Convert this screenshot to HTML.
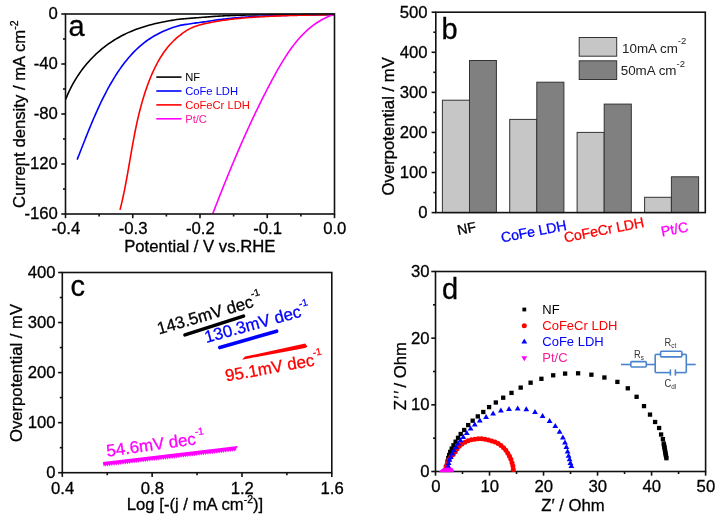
<!DOCTYPE html>
<html><head><meta charset="utf-8"><style>
html,body{margin:0;padding:0;background:#fff;width:723px;height:525px;overflow:hidden;font-family:"Liberation Sans", sans-serif;}
svg text{font-family:"Liberation Sans", sans-serif;stroke-width:0.3px;}
</style></head><body>
<svg width="723" height="525" viewBox="0 0 723 525" style="position:absolute;left:0;top:0;will-change:transform" font-family='"Liberation Sans", sans-serif'>
<rect width="723" height="525" fill="#fff"/>
<g clip-path="url(#clipa)">
<path d="M65.61,99.41 L66.64,96.87 L67.71,94.36 L68.84,91.90 L70.00,89.47 L71.21,87.07 L72.47,84.72 L73.76,82.40 L75.10,80.13 L76.48,77.89 L77.89,75.69 L79.35,73.53 L80.85,71.41 L82.38,69.34 L83.95,67.30 L85.56,65.30 L87.20,63.35 L88.88,61.43 L90.59,59.56 L92.34,57.73 L94.12,55.95 L95.93,54.20 L97.78,52.50 L99.65,50.85 L101.56,49.23 L103.49,47.66 L105.45,46.14 L107.44,44.66 L109.46,43.22 L111.51,41.83 L113.58,40.49 L115.68,39.19 L117.80,37.94 L119.94,36.73 L122.11,35.58 L124.30,34.46 L126.51,33.40 L128.74,32.38 L131.00,31.41 L133.27,30.48 L135.56,29.60 L137.87,28.75 L140.20,27.94 L142.54,27.17 L144.91,26.44 L147.28,25.74 L149.67,25.07 L152.08,24.44 L154.49,23.83 L156.92,23.26 L159.37,22.71 L161.82,22.19 L164.28,21.69 L166.76,21.22 L169.24,20.78 L171.74,20.35 L174.24,19.95 L176.75,19.58 L179.27,19.22 L180.00,19.12 L181.50,19.01 L183.00,18.90 L184.50,18.78 L186.00,18.66 L187.50,18.53 L189.00,18.41 L190.50,18.29 L192.00,18.16 L193.50,18.04 L195.00,17.92 L196.50,17.80 L198.00,17.68 L199.50,17.56 L201.00,17.44 L202.50,17.32 L204.00,17.21 L205.50,17.09 L207.00,16.96 L208.50,16.83 L210.00,16.71 L211.50,16.60 L213.00,16.49 L214.50,16.39 L216.00,16.29 L217.50,16.19 L219.00,16.10 L220.50,16.02 L222.00,15.94 L223.50,15.86 L225.00,15.79 L226.50,15.72 L228.00,15.65 L229.50,15.59 L231.00,15.53 L232.50,15.47 L234.00,15.41 L235.50,15.36 L237.00,15.31 L238.50,15.26 L240.00,15.22 L241.50,15.17 L243.00,15.13 L244.50,15.09 L246.00,15.06 L247.50,15.02 L249.00,14.99 L250.50,14.95 L252.00,14.92 L253.50,14.89 L255.00,14.86 L256.50,14.84 L258.00,14.81 L259.50,14.79 L261.00,14.77 L262.50,14.74 L264.00,14.72 L265.50,14.70 L267.00,14.68 L268.50,14.67 L270.00,14.65 L271.50,14.63 L273.00,14.62 L274.50,14.60 L276.00,14.59 L277.50,14.57 L279.00,14.56 L280.50,14.55 L282.00,14.54 L283.50,14.53 L285.00,14.51 L286.50,14.50 L288.00,14.49 L289.50,14.49 L291.00,14.48 L292.50,14.47 L294.00,14.46 L295.50,14.45 L297.00,14.45 L298.50,14.44 L300.00,14.43 L301.50,14.43 L303.00,14.42 L304.50,14.41 L306.00,14.41 L307.50,14.40 L309.00,14.40 L310.50,14.39 L312.00,14.39 L313.50,14.39 L315.00,14.38 L316.50,14.38 L318.00,14.37 L319.50,14.37 L321.00,14.37 L322.50,14.36 L324.00,14.36 L325.50,14.36 L327.00,14.36 L328.50,14.35 L330.00,14.35 L331.50,14.35 L333.00,14.35 L334.50,14.34" fill="none" stroke="#000" stroke-width="1.6" stroke-linejoin="round"/>
<path d="M77.14,159.59 L78.10,157.16 L79.07,154.71 L80.04,152.25 L81.01,149.76 L81.99,147.26 L82.98,144.74 L83.98,142.21 L84.98,139.67 L85.99,137.12 L87.02,134.56 L88.05,131.99 L89.10,129.41 L90.16,126.82 L91.23,124.24 L92.31,121.64 L93.42,119.05 L94.54,116.46 L95.67,113.86 L96.83,111.27 L98.00,108.68 L99.19,106.10 L100.41,103.52 L101.64,100.95 L102.90,98.38 L104.18,95.83 L105.49,93.28 L106.82,90.75 L108.18,88.23 L109.56,85.73 L110.97,83.25 L112.41,80.78 L113.88,78.34 L115.39,75.92 L116.92,73.53 L118.48,71.16 L120.08,68.84 L121.71,66.54 L123.38,64.28 L125.08,62.07 L126.82,59.89 L128.60,57.76 L130.42,55.68 L132.27,53.64 L134.17,51.66 L136.10,49.73 L138.08,47.86 L140.11,46.05 L142.17,44.30 L144.28,42.62 L146.44,41.00 L148.64,39.46 L150.89,37.97 L153.17,36.56 L155.50,35.21 L157.87,33.93 L160.27,32.71 L162.71,31.56 L165.19,30.47 L167.69,29.44 L170.23,28.48 L172.80,27.58 L175.39,26.73 L178.02,25.94 L180.00,25.38 L181.50,25.13 L183.00,24.88 L184.50,24.64 L186.00,24.40 L187.50,24.18 L189.00,23.95 L190.50,23.73 L192.00,23.52 L193.50,23.30 L195.00,23.10 L196.50,22.89 L198.00,22.69 L199.50,22.49 L201.00,22.29 L202.50,22.10 L204.00,21.90 L205.50,21.69 L207.00,21.43 L208.50,21.18 L210.00,20.93 L211.50,20.70 L213.00,20.47 L214.50,20.25 L216.00,20.04 L217.50,19.84 L219.00,19.64 L220.50,19.46 L222.00,19.27 L223.50,19.10 L225.00,18.93 L226.50,18.77 L228.00,18.61 L229.50,18.46 L231.00,18.31 L232.50,18.17 L234.00,18.03 L235.50,17.90 L237.00,17.77 L238.50,17.65 L240.00,17.53 L241.50,17.42 L243.00,17.31 L244.50,17.20 L246.00,17.10 L247.50,17.00 L249.00,16.90 L250.50,16.81 L252.00,16.72 L253.50,16.64 L255.00,16.55 L256.50,16.47 L258.00,16.40 L259.50,16.32 L261.00,16.25 L262.50,16.18 L264.00,16.12 L265.50,16.05 L267.00,15.99 L268.50,15.93 L270.00,15.87 L271.50,15.82 L273.00,15.76 L274.50,15.71 L276.00,15.66 L277.50,15.61 L279.00,15.57 L280.50,15.52 L282.00,15.48 L283.50,15.44 L285.00,15.40 L286.50,15.36 L288.00,15.32 L289.50,15.29 L291.00,15.25 L292.50,15.22 L294.00,15.18 L295.50,15.15 L297.00,15.12 L298.50,15.09 L300.00,15.07 L301.50,15.04 L303.00,15.01 L304.50,14.99 L306.00,14.96 L307.50,14.94 L309.00,14.92 L310.50,14.90 L312.00,14.87 L313.50,14.85 L315.00,14.83 L316.50,14.82 L318.00,14.80 L319.50,14.78 L321.00,14.76 L322.50,14.75 L324.00,14.73 L325.50,14.72 L327.00,14.70 L328.50,14.69 L330.00,14.67 L331.50,14.66 L333.00,14.65 L334.50,14.64" fill="none" stroke="#0000ff" stroke-width="1.6" stroke-linejoin="round"/>
<path d="M119.99,209.91 L120.69,207.14 L121.37,204.35 L122.02,201.56 L122.65,198.77 L123.27,195.96 L123.86,193.15 L124.44,190.33 L125.00,187.51 L125.55,184.68 L126.09,181.84 L126.61,179.00 L127.13,176.16 L127.64,173.31 L128.14,170.46 L128.64,167.60 L129.13,164.74 L129.62,161.88 L130.11,159.01 L130.61,156.15 L131.10,153.28 L131.60,150.40 L132.11,147.53 L132.62,144.66 L133.15,141.78 L133.68,138.90 L134.22,136.03 L134.78,133.15 L135.35,130.28 L135.94,127.40 L136.55,124.53 L137.17,121.66 L137.82,118.79 L138.49,115.92 L139.18,113.05 L139.90,110.19 L140.65,107.33 L141.42,104.47 L142.22,101.62 L143.06,98.77 L143.93,95.92 L144.83,93.08 L145.77,90.25 L146.74,87.41 L147.76,84.59 L148.81,81.77 L149.91,78.97 L151.05,76.19 L152.23,73.44 L153.47,70.71 L154.75,68.01 L156.08,65.36 L157.46,62.75 L158.89,60.18 L160.38,57.67 L161.92,55.21 L163.52,52.82 L165.18,50.49 L166.89,48.24 L168.67,46.06 L170.52,43.97 L172.42,41.96 L174.40,40.04 L176.44,38.21 L178.54,36.48 L180.00,35.39 L181.50,34.09 L183.00,32.90 L184.50,31.83 L186.00,30.85 L187.50,29.94 L189.00,29.12 L190.50,28.37 L192.00,27.68 L193.50,27.05 L195.00,26.47 L196.50,25.94 L198.00,25.45 L199.50,25.01 L201.00,24.60 L202.50,24.23 L204.00,23.88 L205.50,23.56 L207.00,23.23 L208.50,22.92 L210.00,22.61 L211.50,22.32 L213.00,22.04 L214.50,21.76 L216.00,21.50 L217.50,21.25 L219.00,21.00 L220.50,20.77 L222.00,20.54 L223.50,20.32 L225.00,20.11 L226.50,19.90 L228.00,19.70 L229.50,19.51 L231.00,19.33 L232.50,19.15 L234.00,18.98 L235.50,18.82 L237.00,18.66 L238.50,18.50 L240.00,18.36 L241.50,18.21 L243.00,18.07 L244.50,17.94 L246.00,17.81 L247.50,17.69 L249.00,17.57 L250.50,17.45 L252.00,17.34 L253.50,17.24 L255.00,17.13 L256.50,17.03 L258.00,16.94 L259.50,16.84 L261.00,16.75 L262.50,16.67 L264.00,16.58 L265.50,16.50 L267.00,16.43 L268.50,16.35 L270.00,16.28 L271.50,16.21 L273.00,16.14 L274.50,16.08 L276.00,16.01 L277.50,15.95 L279.00,15.90 L280.50,15.84 L282.00,15.78 L283.50,15.73 L285.00,15.68 L286.50,15.63 L288.00,15.59 L289.50,15.54 L291.00,15.50 L292.50,15.46 L294.00,15.41 L295.50,15.38 L297.00,15.34 L298.50,15.30 L300.00,15.27 L301.50,15.23 L303.00,15.20 L304.50,15.17 L306.00,15.14 L307.50,15.11 L309.00,15.08 L310.50,15.05 L312.00,15.02 L313.50,15.00 L315.00,14.97 L316.50,14.95 L318.00,14.93 L319.50,14.91 L321.00,14.88 L322.50,14.86 L324.00,14.84 L325.50,14.82 L327.00,14.81 L328.50,14.79 L330.00,14.77 L331.50,14.75 L333.00,14.74 L334.50,14.72" fill="none" stroke="#ff0000" stroke-width="1.6" stroke-linejoin="round"/>
<path d="M212.82,213.54 L213.55,211.64 L214.29,209.74 L215.02,207.85 L215.76,205.95 L216.50,204.06 L217.23,202.17 L217.97,200.29 L218.71,198.41 L219.45,196.53 L220.19,194.65 L220.93,192.77 L221.67,190.90 L222.42,189.03 L223.16,187.16 L223.91,185.29 L224.66,183.43 L225.41,181.56 L226.16,179.70 L226.92,177.84 L227.67,175.99 L228.43,174.13 L229.19,172.28 L229.95,170.43 L230.71,168.58 L231.48,166.73 L232.25,164.89 L233.02,163.04 L233.79,161.20 L234.57,159.36 L235.34,157.52 L236.12,155.69 L236.91,153.85 L237.69,152.02 L238.48,150.18 L239.28,148.35 L240.07,146.52 L240.87,144.69 L241.67,142.86 L242.48,141.04 L243.29,139.21 L244.10,137.39 L244.91,135.57 L245.73,133.75 L246.55,131.92 L247.38,130.11 L248.21,128.29 L249.05,126.47 L249.88,124.65 L250.73,122.84 L251.57,121.02 L252.42,119.21 L253.28,117.39 L254.14,115.58 L255.00,113.77 L255.87,111.96 L256.75,110.15 L257.62,108.34 L258.51,106.53 L259.40,104.72 L260.29,102.91 L261.19,101.10 L262.09,99.29 L263.00,97.48 L263.91,95.68 L264.83,93.87 L265.75,92.06 L266.68,90.25 L267.62,88.45 L268.56,86.64 L269.51,84.83 L270.46,83.03 L271.42,81.22 L272.38,79.41 L273.35,77.61 L274.33,75.80 L275.32,74.00 L276.31,72.20 L277.31,70.41 L278.32,68.63 L279.35,66.85 L280.38,65.08 L281.42,63.31 L282.48,61.56 L283.55,59.82 L284.63,58.10 L285.72,56.38 L286.83,54.69 L287.96,53.00 L289.10,51.34 L290.25,49.69 L291.43,48.06 L292.62,46.46 L293.82,44.87 L295.05,43.31 L296.30,41.77 L297.56,40.25 L298.85,38.76 L300.15,37.30 L301.48,35.86 L302.83,34.45 L304.20,33.08 L305.60,31.73 L307.02,30.42 L308.46,29.14 L309.93,27.89 L311.43,26.68 L312.95,25.51 L314.50,24.38 L316.07,23.28 L317.68,22.22 L319.31,21.21 L320.97,20.23 L322.66,19.30 L324.39,18.41 L326.14,17.57 L327.93,16.78 L329.74,16.03 L331.60,15.33 L333.48,14.68" fill="none" stroke="#ff00ff" stroke-width="1.6" stroke-linejoin="round"/>
</g>
<clipPath id="clipa"><rect x="65.5" y="12.0" width="269.0" height="202.0"/></clipPath>
<rect x="65.5" y="14.0" width="269.0" height="200.0" fill="none" stroke="#111" stroke-width="1.6"/>
<line x1="61.30" y1="14.00" x2="65.50" y2="14.00" stroke="#111" stroke-width="1.6" />
<line x1="61.30" y1="64.00" x2="65.50" y2="64.00" stroke="#111" stroke-width="1.6" />
<line x1="61.30" y1="114.00" x2="65.50" y2="114.00" stroke="#111" stroke-width="1.6" />
<line x1="61.30" y1="164.00" x2="65.50" y2="164.00" stroke="#111" stroke-width="1.6" />
<line x1="61.30" y1="214.00" x2="65.50" y2="214.00" stroke="#111" stroke-width="1.6" />
<line x1="63.00" y1="39.00" x2="65.50" y2="39.00" stroke="#111" stroke-width="1.6" />
<line x1="63.00" y1="89.00" x2="65.50" y2="89.00" stroke="#111" stroke-width="1.6" />
<line x1="63.00" y1="139.00" x2="65.50" y2="139.00" stroke="#111" stroke-width="1.6" />
<line x1="63.00" y1="189.00" x2="65.50" y2="189.00" stroke="#111" stroke-width="1.6" />
<line x1="65.50" y1="214.00" x2="65.50" y2="218.20" stroke="#111" stroke-width="1.6" />
<line x1="132.75" y1="214.00" x2="132.75" y2="218.20" stroke="#111" stroke-width="1.6" />
<line x1="200.00" y1="214.00" x2="200.00" y2="218.20" stroke="#111" stroke-width="1.6" />
<line x1="267.25" y1="214.00" x2="267.25" y2="218.20" stroke="#111" stroke-width="1.6" />
<line x1="334.50" y1="214.00" x2="334.50" y2="218.20" stroke="#111" stroke-width="1.6" />
<line x1="99.13" y1="214.00" x2="99.13" y2="216.50" stroke="#111" stroke-width="1.6" />
<line x1="166.38" y1="214.00" x2="166.38" y2="216.50" stroke="#111" stroke-width="1.6" />
<line x1="233.62" y1="214.00" x2="233.62" y2="216.50" stroke="#111" stroke-width="1.6" />
<line x1="300.88" y1="214.00" x2="300.88" y2="216.50" stroke="#111" stroke-width="1.6" />
<text x="57.90" y="19.40" font-size="16.7" text-anchor="end" fill="#000" stroke="#000" >0</text>
<text x="57.90" y="69.40" font-size="16.7" text-anchor="end" fill="#000" stroke="#000" >-40</text>
<text x="57.90" y="119.40" font-size="16.7" text-anchor="end" fill="#000" stroke="#000" >-80</text>
<text x="57.90" y="169.40" font-size="16.7" text-anchor="end" fill="#000" stroke="#000" >-120</text>
<text x="57.90" y="219.40" font-size="16.7" text-anchor="end" fill="#000" stroke="#000" >-160</text>
<text x="65.80" y="234.40" font-size="16.7" text-anchor="middle" fill="#000" stroke="#000" >-0.4</text>
<text x="133.05" y="234.40" font-size="16.7" text-anchor="middle" fill="#000" stroke="#000" >-0.3</text>
<text x="200.30" y="234.40" font-size="16.7" text-anchor="middle" fill="#000" stroke="#000" >-0.2</text>
<text x="267.55" y="234.40" font-size="16.7" text-anchor="middle" fill="#000" stroke="#000" >-0.1</text>
<text x="334.80" y="234.40" font-size="16.7" text-anchor="middle" fill="#000" stroke="#000" >0.0</text>
<text x="199.80" y="252.00" font-size="16.7" text-anchor="middle" fill="#000" stroke="#000" >Potential / V vs.RHE</text>
<text transform="translate(25.2,114.2) rotate(-90)" font-size="16.7" text-anchor="middle" stroke="#000">Current density / mA cm<tspan font-size="10.5" dy="-7">-2</tspan></text>
<text x="68.60" y="36.30" font-size="29" text-anchor="start" fill="#000" stroke="#000" >a</text>
<line x1="156.30" y1="77.10" x2="181.50" y2="77.10" stroke="#000" stroke-width="1.6" />
<text x="185.20" y="81.10" font-size="11.2" text-anchor="start" fill="#000" >NF</text>
<line x1="156.30" y1="91.00" x2="181.50" y2="91.00" stroke="#0000ff" stroke-width="1.6" />
<text x="185.20" y="95.00" font-size="11.2" text-anchor="start" fill="#0000ff" >CoFe LDH</text>
<line x1="156.30" y1="104.90" x2="181.50" y2="104.90" stroke="#ff0000" stroke-width="1.6" />
<text x="185.20" y="108.90" font-size="11.2" text-anchor="start" fill="#ff0000" >CoFeCr LDH</text>
<line x1="156.30" y1="118.80" x2="181.50" y2="118.80" stroke="#ff00ff" stroke-width="1.6" />
<text x="185.20" y="122.80" font-size="11.2" text-anchor="start" fill="#ff1a9c" >Pt/C</text>
<rect x="442.4" y="100.2" width="27.100000000000023" height="112.39999999999999" fill="#c6c6c6" stroke="#333" stroke-width="1"/>
<rect x="469.5" y="60.5" width="26.899999999999977" height="152.1" fill="#808080" stroke="#333" stroke-width="1"/>
<rect x="509.7" y="119.4" width="27.099999999999966" height="93.19999999999999" fill="#c6c6c6" stroke="#333" stroke-width="1"/>
<rect x="536.8" y="82.2" width="27.100000000000023" height="130.39999999999998" fill="#808080" stroke="#333" stroke-width="1"/>
<rect x="577.1" y="132.4" width="27.100000000000023" height="80.19999999999999" fill="#c6c6c6" stroke="#333" stroke-width="1"/>
<rect x="604.2" y="104.1" width="27.09999999999991" height="108.5" fill="#808080" stroke="#333" stroke-width="1"/>
<rect x="644.6" y="197.3" width="26.799999999999955" height="15.299999999999983" fill="#c6c6c6" stroke="#333" stroke-width="1"/>
<rect x="671.4" y="176.8" width="27.200000000000045" height="35.79999999999998" fill="#808080" stroke="#333" stroke-width="1"/>
<rect x="435.8" y="12.2" width="269.49999999999994" height="200.4" fill="none" stroke="#111" stroke-width="1.6"/>
<line x1="431.60" y1="212.60" x2="435.80" y2="212.60" stroke="#111" stroke-width="1.6" />
<line x1="431.60" y1="172.52" x2="435.80" y2="172.52" stroke="#111" stroke-width="1.6" />
<line x1="431.60" y1="132.44" x2="435.80" y2="132.44" stroke="#111" stroke-width="1.6" />
<line x1="431.60" y1="92.36" x2="435.80" y2="92.36" stroke="#111" stroke-width="1.6" />
<line x1="431.60" y1="52.28" x2="435.80" y2="52.28" stroke="#111" stroke-width="1.6" />
<line x1="431.60" y1="12.20" x2="435.80" y2="12.20" stroke="#111" stroke-width="1.6" />
<line x1="433.30" y1="192.56" x2="435.80" y2="192.56" stroke="#111" stroke-width="1.6" />
<line x1="433.30" y1="152.48" x2="435.80" y2="152.48" stroke="#111" stroke-width="1.6" />
<line x1="433.30" y1="112.40" x2="435.80" y2="112.40" stroke="#111" stroke-width="1.6" />
<line x1="433.30" y1="72.32" x2="435.80" y2="72.32" stroke="#111" stroke-width="1.6" />
<line x1="433.30" y1="32.24" x2="435.80" y2="32.24" stroke="#111" stroke-width="1.6" />
<text x="427.60" y="218.20" font-size="16.7" text-anchor="end" fill="#000" stroke="#000" >0</text>
<text x="427.60" y="178.12" font-size="16.7" text-anchor="end" fill="#000" stroke="#000" >100</text>
<text x="427.60" y="138.04" font-size="16.7" text-anchor="end" fill="#000" stroke="#000" >200</text>
<text x="427.60" y="97.96" font-size="16.7" text-anchor="end" fill="#000" stroke="#000" >300</text>
<text x="427.60" y="57.88" font-size="16.7" text-anchor="end" fill="#000" stroke="#000" >400</text>
<text x="427.60" y="17.80" font-size="16.7" text-anchor="end" fill="#000" stroke="#000" >500</text>
<text transform="translate(394.3,126.3) rotate(-90)" font-size="16.7" text-anchor="middle" stroke="#000">Overpotential / mV</text>
<text x="441.50" y="38.50" font-size="29" text-anchor="start" fill="#000" stroke="#000" >b</text>
<rect x="579.2" y="37.5" width="37.5" height="18.7" fill="#c6c6c6" stroke="#333" stroke-width="1"/>
<rect x="579.2" y="60.8" width="37.5" height="18.7" fill="#808080" stroke="#333" stroke-width="1"/>
<text x="622.0" y="52.9" font-size="13.4" fill="#222">10mA cm<tspan font-size="9.5" dy="-8.5">-2</tspan></text>
<text x="620.7" y="75.1" font-size="13.4" fill="#222">50mA cm<tspan font-size="9.5" dy="-8.5">-2</tspan></text>
<text transform="translate(466.4,228.3) rotate(-11)" font-size="14.1" text-anchor="middle" fill="#000" dy="5" stroke="#000">NF</text>
<text transform="translate(533.6,231.3) rotate(-11)" font-size="14.1" text-anchor="middle" fill="#0000ff" dy="5" stroke="#0000ff">CoFe LDH</text>
<text transform="translate(603.9,229.7) rotate(-11)" font-size="14.1" text-anchor="middle" fill="#ff0000" dy="5" stroke="#ff0000">CoFeCr LDH</text>
<text transform="translate(674.5,229) rotate(-11)" font-size="14.1" text-anchor="middle" fill="#ff00ff" dy="5" stroke="#ff00ff">Pt/C</text>
<rect x="62.3" y="272.5" width="269.5" height="200.2" fill="none" stroke="#111" stroke-width="1.6"/>
<line x1="58.10" y1="472.70" x2="62.30" y2="472.70" stroke="#111" stroke-width="1.6" />
<line x1="58.10" y1="422.65" x2="62.30" y2="422.65" stroke="#111" stroke-width="1.6" />
<line x1="58.10" y1="372.60" x2="62.30" y2="372.60" stroke="#111" stroke-width="1.6" />
<line x1="58.10" y1="322.55" x2="62.30" y2="322.55" stroke="#111" stroke-width="1.6" />
<line x1="58.10" y1="272.50" x2="62.30" y2="272.50" stroke="#111" stroke-width="1.6" />
<line x1="59.80" y1="447.68" x2="62.30" y2="447.68" stroke="#111" stroke-width="1.6" />
<line x1="59.80" y1="397.62" x2="62.30" y2="397.62" stroke="#111" stroke-width="1.6" />
<line x1="59.80" y1="347.57" x2="62.30" y2="347.57" stroke="#111" stroke-width="1.6" />
<line x1="59.80" y1="297.52" x2="62.30" y2="297.52" stroke="#111" stroke-width="1.6" />
<line x1="62.30" y1="472.70" x2="62.30" y2="476.90" stroke="#111" stroke-width="1.6" />
<line x1="152.13" y1="472.70" x2="152.13" y2="476.90" stroke="#111" stroke-width="1.6" />
<line x1="241.97" y1="472.70" x2="241.97" y2="476.90" stroke="#111" stroke-width="1.6" />
<line x1="331.80" y1="472.70" x2="331.80" y2="476.90" stroke="#111" stroke-width="1.6" />
<line x1="107.22" y1="472.70" x2="107.22" y2="475.20" stroke="#111" stroke-width="1.6" />
<line x1="197.05" y1="472.70" x2="197.05" y2="475.20" stroke="#111" stroke-width="1.6" />
<line x1="286.88" y1="472.70" x2="286.88" y2="475.20" stroke="#111" stroke-width="1.6" />
<text x="55.60" y="478.30" font-size="16.7" text-anchor="end" fill="#000" stroke="#000" >0</text>
<text x="55.60" y="428.25" font-size="16.7" text-anchor="end" fill="#000" stroke="#000" >100</text>
<text x="55.60" y="378.20" font-size="16.7" text-anchor="end" fill="#000" stroke="#000" >200</text>
<text x="55.60" y="328.15" font-size="16.7" text-anchor="end" fill="#000" stroke="#000" >300</text>
<text x="55.60" y="278.10" font-size="16.7" text-anchor="end" fill="#000" stroke="#000" >400</text>
<text x="62.60" y="494.20" font-size="16.7" text-anchor="middle" fill="#000" stroke="#000" >0.4</text>
<text x="152.43" y="494.20" font-size="16.7" text-anchor="middle" fill="#000" stroke="#000" >0.8</text>
<text x="242.27" y="494.20" font-size="16.7" text-anchor="middle" fill="#000" stroke="#000" >1.2</text>
<text x="332.10" y="494.20" font-size="16.7" text-anchor="middle" fill="#000" stroke="#000" >1.6</text>
<text x="195" y="510.4" font-size="16.7" text-anchor="middle" stroke="#000">Log [-(j / mA cm<tspan font-size="10.5" dy="-7">-2</tspan><tspan dy="7">)]</tspan></text>
<text transform="translate(22.4,373) rotate(-90)" font-size="16.7" text-anchor="middle" stroke="#000">Overpotential / mV</text>
<text x="70.50" y="296.00" font-size="29" text-anchor="start" fill="#000" stroke="#000" >c</text>
<line x1="185" y1="334.9" x2="243.5" y2="316.1" stroke="#000" stroke-width="3.6" stroke-linecap="round"/>
<line x1="219.8" y1="347.6" x2="276.6" y2="331.2" stroke="#0000ff" stroke-width="3.6" stroke-linecap="round"/>
<polygon points="242.1,359.7 245.1,356.6 305.2,343.4 307.5,346.7 305.2,348" fill="#ff0000"/>
<path d="M102.90,461.90 L237.90,446.10 L235.80,449.67 L235.80,449.67 L234.89,451.59 L233.57,449.93 L232.66,451.85 L231.33,450.19 L230.42,452.11 L229.10,450.45 L228.19,452.37 L226.86,450.71 L225.95,452.63 L224.63,450.98 L223.72,452.89 L222.39,451.24 L221.48,453.16 L220.16,451.50 L219.25,453.42 L217.92,451.76 L217.01,453.68 L215.69,452.02 L214.78,453.94 L213.45,452.28 L212.54,454.20 L211.22,452.55 L210.31,454.46 L208.98,452.81 L208.08,454.73 L206.75,453.07 L205.84,454.99 L204.51,453.33 L203.61,455.25 L202.28,453.59 L201.37,455.51 L200.04,453.85 L199.14,455.77 L197.81,454.11 L196.90,456.03 L195.58,454.38 L194.67,456.29 L193.34,454.64 L192.43,456.56 L191.11,454.90 L190.20,456.82 L188.87,455.16 L187.96,457.08 L186.64,455.42 L185.73,457.34 L184.40,455.68 L183.49,457.60 L182.17,455.95 L181.26,457.86 L179.93,456.21 L179.02,458.13 L177.70,456.47 L176.79,458.39 L175.46,456.73 L174.55,458.65 L173.23,456.99 L172.32,458.91 L170.99,457.25 L170.08,459.17 L168.76,457.51 L167.85,459.43 L166.52,457.78 L165.62,459.69 L164.29,458.04 L163.38,459.96 L162.05,458.30 L161.15,460.22 L159.82,458.56 L158.91,460.48 L157.58,458.82 L156.68,460.74 L155.35,459.08 L154.44,461.00 L153.11,459.35 L152.21,461.26 L150.88,459.61 L149.97,461.53 L148.65,459.87 L147.74,461.79 L146.41,460.13 L145.50,462.05 L144.18,460.39 L143.27,462.31 L141.94,460.65 L141.03,462.57 L139.71,460.91 L138.80,462.83 L137.47,461.18 L136.56,463.09 L135.24,461.44 L134.33,463.36 L133.00,461.70 L132.09,463.62 L130.77,461.96 L129.86,463.88 L128.53,462.22 L127.62,464.14 L126.30,462.48 L125.39,464.40 L124.06,462.75 L123.16,464.66 L121.83,463.01 L120.92,464.93 L119.59,463.27 L118.69,465.19 L117.36,463.53 L116.45,465.45 L115.12,463.79 L114.22,465.71 L112.89,464.05 L111.98,465.97 L110.65,464.31 L109.75,466.23 L108.42,464.58 L107.51,466.50 L106.19,464.84 L105.28,466.76 L103.95,465.10 L103.04,467.02 L103.32,465.48 Z" fill="#ff00ff"/>
<text transform="translate(158.9,334.6) rotate(-16.3)" font-size="16.9" fill="#000" stroke="#000">143.5mV dec<tspan font-size="10" dy="-9.5">-1</tspan></text>
<text transform="translate(206.3,343) rotate(-15.4)" font-size="16.9" fill="#0000ff" stroke="#0000ff">130.3mV dec<tspan font-size="10" dy="-9.5">-1</tspan></text>
<text transform="translate(226.3,381.6) rotate(-10.3)" font-size="16.9" fill="#ff0000" stroke="#ff0000">95.1mV dec<tspan font-size="10" dy="-9.5">-1</tspan></text>
<text transform="translate(107.2,456.8) rotate(-8)" font-size="16.9" fill="#ff00ff" stroke="#ff00ff">54.6mV dec<tspan font-size="10" dy="-9">-1</tspan></text>
<rect x="435.5" y="271.5" width="270.1" height="200.0" fill="none" stroke="#111" stroke-width="1.6"/>
<line x1="431.30" y1="471.50" x2="435.50" y2="471.50" stroke="#111" stroke-width="1.6" />
<line x1="431.30" y1="404.83" x2="435.50" y2="404.83" stroke="#111" stroke-width="1.6" />
<line x1="431.30" y1="338.17" x2="435.50" y2="338.17" stroke="#111" stroke-width="1.6" />
<line x1="431.30" y1="271.50" x2="435.50" y2="271.50" stroke="#111" stroke-width="1.6" />
<line x1="433.00" y1="438.17" x2="435.50" y2="438.17" stroke="#111" stroke-width="1.6" />
<line x1="433.00" y1="371.50" x2="435.50" y2="371.50" stroke="#111" stroke-width="1.6" />
<line x1="433.00" y1="304.83" x2="435.50" y2="304.83" stroke="#111" stroke-width="1.6" />
<line x1="435.50" y1="471.50" x2="435.50" y2="475.70" stroke="#111" stroke-width="1.6" />
<line x1="489.52" y1="471.50" x2="489.52" y2="475.70" stroke="#111" stroke-width="1.6" />
<line x1="543.54" y1="471.50" x2="543.54" y2="475.70" stroke="#111" stroke-width="1.6" />
<line x1="597.56" y1="471.50" x2="597.56" y2="475.70" stroke="#111" stroke-width="1.6" />
<line x1="651.58" y1="471.50" x2="651.58" y2="475.70" stroke="#111" stroke-width="1.6" />
<line x1="705.60" y1="471.50" x2="705.60" y2="475.70" stroke="#111" stroke-width="1.6" />
<line x1="462.51" y1="471.50" x2="462.51" y2="474.00" stroke="#111" stroke-width="1.6" />
<line x1="516.53" y1="471.50" x2="516.53" y2="474.00" stroke="#111" stroke-width="1.6" />
<line x1="570.55" y1="471.50" x2="570.55" y2="474.00" stroke="#111" stroke-width="1.6" />
<line x1="624.57" y1="471.50" x2="624.57" y2="474.00" stroke="#111" stroke-width="1.6" />
<line x1="678.59" y1="471.50" x2="678.59" y2="474.00" stroke="#111" stroke-width="1.6" />
<text x="429.60" y="477.10" font-size="16.7" text-anchor="end" fill="#000" stroke="#000" >0</text>
<text x="429.60" y="410.43" font-size="16.7" text-anchor="end" fill="#000" stroke="#000" >10</text>
<text x="429.60" y="343.77" font-size="16.7" text-anchor="end" fill="#000" stroke="#000" >20</text>
<text x="429.60" y="277.10" font-size="16.7" text-anchor="end" fill="#000" stroke="#000" >30</text>
<text x="435.80" y="491.60" font-size="16.7" text-anchor="middle" fill="#000" stroke="#000" >0</text>
<text x="489.82" y="491.60" font-size="16.7" text-anchor="middle" fill="#000" stroke="#000" >10</text>
<text x="543.84" y="491.60" font-size="16.7" text-anchor="middle" fill="#000" stroke="#000" >20</text>
<text x="597.86" y="491.60" font-size="16.7" text-anchor="middle" fill="#000" stroke="#000" >30</text>
<text x="651.88" y="491.60" font-size="16.7" text-anchor="middle" fill="#000" stroke="#000" >40</text>
<text x="705.90" y="491.60" font-size="16.7" text-anchor="middle" fill="#000" stroke="#000" >50</text>
<text x="573.00" y="510.60" font-size="16.7" text-anchor="middle" fill="#000" stroke="#000" >Z′ / Ohm</text>
<text transform="translate(405.5,410.2) rotate(-90)" font-size="16.7" text-anchor="start" stroke="#000">Z<tspan dx="1.2">′</tspan><tspan dx="1.8">′</tspan><tspan dx="-1.5"> / Ohm</tspan></text>
<text x="442.00" y="298.80" font-size="29" text-anchor="start" fill="#000" stroke="#000" >d</text>
<rect x="444.35" y="467.15" width="4.3" height="4.3" fill="#000"/>
<rect x="444.75" y="463.35" width="4.3" height="4.3" fill="#000"/>
<rect x="445.35" y="459.35" width="4.3" height="4.3" fill="#000"/>
<rect x="446.15" y="455.85" width="4.3" height="4.3" fill="#000"/>
<rect x="447.05" y="452.85" width="4.3" height="4.3" fill="#000"/>
<rect x="448.05" y="449.75" width="4.3" height="4.3" fill="#000"/>
<rect x="449.55" y="446.45" width="4.3" height="4.3" fill="#000"/>
<rect x="451.35" y="443.15" width="4.3" height="4.3" fill="#000"/>
<rect x="453.45" y="439.55" width="4.3" height="4.3" fill="#000"/>
<rect x="455.85" y="435.65" width="4.3" height="4.3" fill="#000"/>
<rect x="458.55" y="431.85" width="4.3" height="4.3" fill="#000"/>
<rect x="462.05" y="427.85" width="4.3" height="4.3" fill="#000"/>
<rect x="466.05" y="422.95" width="4.3" height="4.3" fill="#000"/>
<rect x="470.55" y="418.55" width="4.3" height="4.3" fill="#000"/>
<rect x="475.65" y="414.25" width="4.3" height="4.3" fill="#000"/>
<rect x="481.15" y="409.85" width="4.3" height="4.3" fill="#000"/>
<rect x="486.95" y="404.95" width="4.3" height="4.3" fill="#000"/>
<rect x="493.65" y="400.35" width="4.3" height="4.3" fill="#000"/>
<rect x="501.05" y="395.55" width="4.3" height="4.3" fill="#000"/>
<rect x="509.35" y="390.75" width="4.3" height="4.3" fill="#000"/>
<rect x="518.55" y="385.45" width="4.3" height="4.3" fill="#000"/>
<rect x="528.45" y="380.55" width="4.3" height="4.3" fill="#000"/>
<rect x="539.25" y="376.65" width="4.3" height="4.3" fill="#000"/>
<rect x="551.05" y="373.15" width="4.3" height="4.3" fill="#000"/>
<rect x="562.95" y="371.45" width="4.3" height="4.3" fill="#000"/>
<rect x="575.95" y="371.15" width="4.3" height="4.3" fill="#000"/>
<rect x="589.25" y="372.55" width="4.3" height="4.3" fill="#000"/>
<rect x="602.25" y="375.35" width="4.3" height="4.3" fill="#000"/>
<rect x="615.25" y="379.75" width="4.3" height="4.3" fill="#000"/>
<rect x="625.65" y="386.15" width="4.3" height="4.3" fill="#000"/>
<rect x="634.45" y="394.65" width="4.3" height="4.3" fill="#000"/>
<rect x="641.85" y="403.95" width="4.3" height="4.3" fill="#000"/>
<rect x="647.85" y="412.45" width="4.3" height="4.3" fill="#000"/>
<rect x="652.95" y="419.85" width="4.3" height="4.3" fill="#000"/>
<rect x="656.95" y="425.85" width="4.3" height="4.3" fill="#000"/>
<rect x="658.95" y="432.35" width="4.3" height="4.3" fill="#000"/>
<rect x="660.75" y="436.95" width="4.3" height="4.3" fill="#000"/>
<rect x="661.55" y="441.35" width="4.3" height="4.3" fill="#000"/>
<rect x="661.88" y="442.98" width="4.3" height="4.3" fill="#000"/>
<rect x="662.20" y="444.61" width="4.3" height="4.3" fill="#000"/>
<rect x="662.49" y="446.24" width="4.3" height="4.3" fill="#000"/>
<rect x="662.77" y="447.88" width="4.3" height="4.3" fill="#000"/>
<rect x="663.04" y="449.52" width="4.3" height="4.3" fill="#000"/>
<rect x="663.32" y="451.16" width="4.3" height="4.3" fill="#000"/>
<rect x="663.64" y="452.79" width="4.3" height="4.3" fill="#000"/>
<rect x="663.95" y="454.42" width="4.3" height="4.3" fill="#000"/>
<rect x="664.25" y="456.05" width="4.3" height="4.3" fill="#000"/>
<circle cx="445.30" cy="469.50" r="2.5" fill="#ff0000"/>
<circle cx="446.15" cy="466.15" r="2.5" fill="#ff0000"/>
<circle cx="447.40" cy="462.93" r="2.5" fill="#ff0000"/>
<circle cx="448.89" cy="459.82" r="2.5" fill="#ff0000"/>
<circle cx="450.80" cy="456.95" r="2.5" fill="#ff0000"/>
<circle cx="453.17" cy="454.44" r="2.5" fill="#ff0000"/>
<circle cx="455.28" cy="451.75" r="2.5" fill="#ff0000"/>
<circle cx="457.10" cy="448.82" r="2.5" fill="#ff0000"/>
<circle cx="459.32" cy="446.18" r="2.5" fill="#ff0000"/>
<circle cx="461.98" cy="444.00" r="2.5" fill="#ff0000"/>
<circle cx="464.95" cy="442.25" r="2.5" fill="#ff0000"/>
<circle cx="468.09" cy="440.82" r="2.5" fill="#ff0000"/>
<circle cx="471.37" cy="439.75" r="2.5" fill="#ff0000"/>
<circle cx="474.77" cy="439.13" r="2.5" fill="#ff0000"/>
<circle cx="478.21" cy="438.80" r="2.5" fill="#ff0000"/>
<circle cx="481.67" cy="438.72" r="2.5" fill="#ff0000"/>
<circle cx="485.07" cy="439.21" r="2.5" fill="#ff0000"/>
<circle cx="488.44" cy="439.99" r="2.5" fill="#ff0000"/>
<circle cx="491.77" cy="440.91" r="2.5" fill="#ff0000"/>
<circle cx="495.08" cy="441.90" r="2.5" fill="#ff0000"/>
<circle cx="498.13" cy="443.52" r="2.5" fill="#ff0000"/>
<circle cx="500.97" cy="445.48" r="2.5" fill="#ff0000"/>
<circle cx="503.56" cy="447.76" r="2.5" fill="#ff0000"/>
<circle cx="505.85" cy="450.34" r="2.5" fill="#ff0000"/>
<circle cx="507.83" cy="453.17" r="2.5" fill="#ff0000"/>
<circle cx="509.49" cy="456.20" r="2.5" fill="#ff0000"/>
<circle cx="510.89" cy="459.36" r="2.5" fill="#ff0000"/>
<circle cx="512.01" cy="462.63" r="2.5" fill="#ff0000"/>
<circle cx="512.89" cy="465.97" r="2.5" fill="#ff0000"/>
<circle cx="513.30" cy="469.40" r="2.5" fill="#ff0000"/>
<polygon points="447.70,466.21 450.60,471.20 444.80,471.20" fill="#0000ff"/>
<polygon points="448.20,463.01 451.10,468.00 445.30,468.00" fill="#0000ff"/>
<polygon points="448.70,460.01 451.60,465.00 445.80,465.00" fill="#0000ff"/>
<polygon points="449.40,456.71 452.30,461.70 446.50,461.70" fill="#0000ff"/>
<polygon points="450.80,453.91 453.70,458.90 447.90,458.90" fill="#0000ff"/>
<polygon points="452.50,450.61 455.40,455.60 449.60,455.60" fill="#0000ff"/>
<polygon points="454.10,447.31 457.00,452.30 451.20,452.30" fill="#0000ff"/>
<polygon points="456.10,444.01 459.00,449.00 453.20,449.00" fill="#0000ff"/>
<polygon points="458.30,440.61 461.20,445.60 455.40,445.60" fill="#0000ff"/>
<polygon points="460.50,437.31 463.40,442.30 457.60,442.30" fill="#0000ff"/>
<polygon points="463.30,434.01 466.20,439.00 460.40,439.00" fill="#0000ff"/>
<polygon points="466.80,430.01 469.70,435.00 463.90,435.00" fill="#0000ff"/>
<polygon points="470.60,425.61 473.50,430.60 467.70,430.60" fill="#0000ff"/>
<polygon points="474.80,421.61 477.70,426.60 471.90,426.60" fill="#0000ff"/>
<polygon points="479.80,417.61 482.70,422.60 476.90,422.60" fill="#0000ff"/>
<polygon points="486.10,413.91 489.00,418.90 483.20,418.90" fill="#0000ff"/>
<polygon points="493.10,410.41 496.00,415.40 490.20,415.40" fill="#0000ff"/>
<polygon points="500.90,407.61 503.80,412.60 498.00,412.60" fill="#0000ff"/>
<polygon points="509.00,406.01 511.90,411.00 506.10,411.00" fill="#0000ff"/>
<polygon points="517.70,405.41 520.60,410.40 514.80,410.40" fill="#0000ff"/>
<polygon points="526.30,406.31 529.20,411.30 523.40,411.30" fill="#0000ff"/>
<polygon points="535.00,409.11 537.90,414.10 532.10,414.10" fill="#0000ff"/>
<polygon points="542.60,413.01 545.50,418.00 539.70,418.00" fill="#0000ff"/>
<polygon points="549.60,418.01 552.50,423.00 546.70,423.00" fill="#0000ff"/>
<polygon points="555.30,423.11 558.20,428.10 552.40,428.10" fill="#0000ff"/>
<polygon points="559.60,428.71 562.50,433.70 556.70,433.70" fill="#0000ff"/>
<polygon points="562.90,434.41 565.80,439.40 560.00,439.40" fill="#0000ff"/>
<polygon points="565.00,439.61 567.90,444.60 562.10,444.60" fill="#0000ff"/>
<polygon points="566.40,444.11 569.30,449.10 563.50,449.10" fill="#0000ff"/>
<polygon points="567.60,448.41 570.50,453.40 564.70,453.40" fill="#0000ff"/>
<polygon points="568.60,452.71 571.50,457.70 565.70,457.70" fill="#0000ff"/>
<polygon points="569.60,456.31 572.50,461.30 566.70,461.30" fill="#0000ff"/>
<polygon points="570.40,459.91 573.30,464.90 567.50,464.90" fill="#0000ff"/>
<polygon points="571.40,463.01 574.30,468.00 568.50,468.00" fill="#0000ff"/>
<path d="M438.8,472.2 C440.5,469.5 442.5,467.6 446.5,467.4 L450.5,467.4 C453.2,467.6 453.8,469.5 453.6,472.2 Z" fill="#ff00ff"/>
<rect x="522.4" y="307.6" width="3.8" height="3.8" fill="#000"/>
<circle cx="524.3" cy="325.7" r="2.5" fill="#ff0000"/>
<polygon points="524.30,338.51 527.20,343.50 521.40,343.50" fill="#0000ff"/>
<polygon points="524.30,361.29 527.20,356.30 521.40,356.30" fill="#ff00ff"/>
<text x="542.30" y="313.90" font-size="13" text-anchor="start" fill="#000" >NF</text>
<text x="542.30" y="329.80" font-size="13" text-anchor="start" fill="#ff0000" >CoFeCr LDH</text>
<text x="542.30" y="346.00" font-size="13" text-anchor="start" fill="#0000ff" >CoFe LDH</text>
<text x="542.30" y="362.00" font-size="13" text-anchor="start" fill="#f2209a" >Pt/C</text>
<g stroke="#4a84cc" stroke-width="1.6" fill="none">
<line x1="621" y1="364.5" x2="630.6" y2="364.5"/>
<rect x="630.8" y="361.6" width="15.5" height="5.4" rx="1"/>
<line x1="646.3" y1="364.5" x2="655.2" y2="364.5"/>
<line x1="655.2" y1="354.4" x2="655.2" y2="372.6"/>
<line x1="686.3" y1="354.4" x2="686.3" y2="372.6"/>
<line x1="655.2" y1="354.4" x2="660.3" y2="354.4"/>
<rect x="660.6" y="351.3" width="21.3" height="5.6" rx="1"/>
<line x1="681.8" y1="354.4" x2="686.3" y2="354.4"/>
<line x1="655.2" y1="372.6" x2="670.4" y2="372.6"/>
<line x1="670.4" y1="369.4" x2="670.4" y2="375.6"/>
<line x1="675.4" y1="369.4" x2="675.4" y2="375.6"/>
<line x1="675.4" y1="372.6" x2="686.3" y2="372.6"/>
<line x1="686.3" y1="364.5" x2="695.7" y2="364.5"/>
</g>
<text x="634" y="358" font-size="11" fill="#333" transform="translate(634,358) scale(0.85,1) translate(-634,-358)">R<tspan font-size="7.5" dy="2">s</tspan></text>
<text x="664.5" y="346.5" font-size="11" fill="#333" transform="translate(664.5,346.5) scale(0.85,1) translate(-664.5,-346.5)">R<tspan font-size="7.5" dy="2">ct</tspan></text>
<text x="664.5" y="387.2" font-size="11" fill="#333" transform="translate(664.5,387.2) scale(0.85,1) translate(-664.5,-387.2)">C<tspan font-size="7.5" dy="2">dl</tspan></text>
</svg>
</body></html>
